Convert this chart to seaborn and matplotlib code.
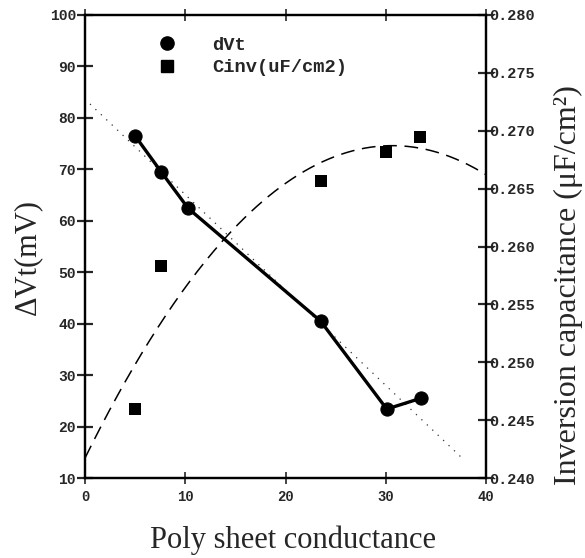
import numpy as np
import pandas as pd
import matplotlib
matplotlib.use("Agg")
import matplotlib.pyplot as plt
from matplotlib.lines import Line2D
import seaborn as sns

# Threshold-voltage shift versus poly sheet conductance
dvt_x = [5.0, 7.6, 10.3, 23.5, 30.1, 33.5]
dvt_y = [76.5, 69.5, 62.4, 40.5, 23.4, 25.5]

# Inversion capacitance versus poly sheet conductance
cinv_x = [5.0, 7.6, 23.5, 30.0, 33.4]
cinv_y = [0.2460, 0.2583, 0.2657, 0.2682, 0.2695]

left_ticks = [10, 20, 30, 40, 50, 60, 70, 80, 90, 100]
right_ticks = [0.240, 0.245, 0.250, 0.255, 0.260, 0.265, 0.270, 0.275, 0.280]
right_labels = ["0.240", "0.245", "0.250", "0.255", "0.260", "0.265", "0.270", "0.275", "0.280"]
x_ticks = [0, 10, 20, 30, 40]

sns.set_style("ticks")
mono = ["Liberation Mono", "DejaVu Sans Mono"]
serif = ["Liberation Serif", "DejaVu Serif"]

dvt = pd.DataFrame({"x": dvt_x, "y": dvt_y})
cinv = pd.DataFrame({"x": cinv_x, "y": cinv_y})

fig = plt.figure(figsize=(5.85, 5.58), dpi=100)
ax = fig.add_axes([85 / 585, 1 - 478 / 558, 401 / 585, 463 / 558])
ax2 = ax.twinx()

# Linear trend of dVt (dotted)
k, b = np.polyfit(dvt_x, dvt_y, 1)
lx = np.linspace(0.5, 37.5, 50)
ax.plot(lx, k * lx + b, color="#333333", lw=0.9, ls=(0, (1, 5)), zorder=2)

# dVt measured points joined by a heavy line
sns.lineplot(data=dvt, x="x", y="y", ax=ax, color="black", lw=2.4,
             marker="o", markersize=9.5, markeredgecolor="black", zorder=3,
             legend=False)

# Quadratic trend of Cinv (dashed)
c2 = np.polyfit(cinv_x, cinv_y, 2)
qx = np.linspace(0, 40, 200)
ax2.plot(qx, np.polyval(c2, qx), color="black", lw=1.1, ls=(0, (9, 5)), zorder=2)

sns.scatterplot(data=cinv, x="x", y="y", ax=ax2, color="black", marker="s",
                s=85, edgecolor="black", linewidth=0, zorder=3, legend=False)

ax.set_xlim(0, 40)
ax.set_ylim(10, 100)
ax2.set_ylim(0.240, 0.280)

ax.set_xticks(x_ticks)
ax.set_yticks(left_ticks)
ax2.set_yticks(right_ticks)
ax2.set_yticklabels(right_labels)

for a in (ax, ax2):
    for s in a.spines.values():
        s.set_linewidth(1.6)
        s.set_color("black")

ax.tick_params(axis="y", direction="inout", length=11, width=1.6, pad=1,
               labelsize=10.5)
ax.tick_params(axis="x", direction="inout", length=9, width=1.2, pad=4,
               labelsize=10)
ax.tick_params(axis="x", top=True)
ax2.tick_params(axis="y", direction="inout", length=11, width=1.6, pad=-3,
                labelsize=11)
for lab in ax.get_xticklabels() + ax.get_yticklabels() + ax2.get_yticklabels():
    lab.set_family(mono)
    lab.set_fontweight("bold")

ax.set_xlabel("Poly sheet conductance", family=serif, fontsize=22, va="center")
ax.xaxis.set_label_coords(0.519, -0.134)
ax.set_ylabel("ΔVt(mV)", family=serif, fontsize=22, va="center")
ax.yaxis.set_label_coords(-0.142, 0.477)
ax2.set_ylabel("Inversion capacitance (μF/cm²)", family=serif, fontsize=23,
               va="center")
ax2.yaxis.set_label_coords(1.205, 0.417)

handles = [
    Line2D([], [], ls="none", marker="o", color="black", markersize=9.5),
    Line2D([], [], ls="none", marker="s", color="black", markersize=9),
]
leg = ax.legend(handles, ["dVt", "Cinv(uF/cm2)"], loc="upper left",
                bbox_to_anchor=(0.14, 0.99), frameon=False, handlelength=1.0,
                handletextpad=1.9, labelspacing=0.3,
                prop={"family": mono, "weight": "bold", "size": 13.5})

fig.savefig("out.png", dpi=100)
